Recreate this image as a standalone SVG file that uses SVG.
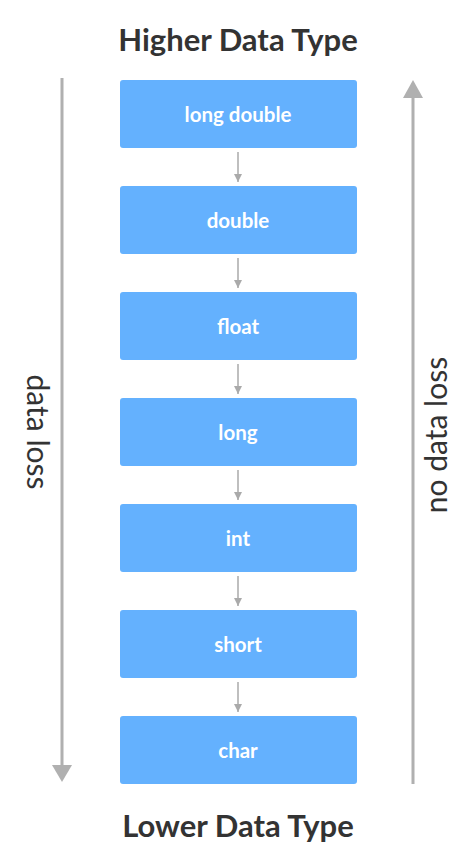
<svg xmlns="http://www.w3.org/2000/svg" width="474" height="865" viewBox="0 0 474 865">
<style>
.box{fill:#64b1fe}
.lbl{font-family:Lato,"Liberation Sans",sans-serif;font-weight:bold;font-size:20.5px;fill:#ffffff;text-anchor:middle}
.title{font-family:Lato,"Liberation Sans",sans-serif;font-weight:bold;font-size:31px;fill:#333333;text-anchor:middle}
.side{font-family:Lato,"Liberation Sans",sans-serif;font-size:30px;fill:#333333;text-anchor:middle}
.sm{stroke:#aaaaaa;stroke-width:1.5;fill:none}
.big{stroke:#b0b0b0;stroke-width:3;fill:none}
</style>
<defs>
<marker id="ah" viewBox="0 0 10 10" refX="10" refY="5" markerWidth="8" markerHeight="10" markerUnits="userSpaceOnUse" orient="auto"><path d="M0,0 L10,5 L0,10 z" fill="#aaaaaa"/></marker>
</defs>
<rect width="474" height="865" fill="#ffffff"/>
<text class="title" x="238" y="51">Higher Data Type</text>
<text class="title" x="238" y="837">Lower Data Type</text>
<g id="connectors">
<line class="sm" x1="238" y1="152" x2="238" y2="182" marker-end="url(#ah)"/>
<line class="sm" x1="238" y1="258" x2="238" y2="288" marker-end="url(#ah)"/>
<line class="sm" x1="238" y1="364" x2="238" y2="394" marker-end="url(#ah)"/>
<line class="sm" x1="238" y1="470" x2="238" y2="500" marker-end="url(#ah)"/>
<line class="sm" x1="238" y1="576" x2="238" y2="606" marker-end="url(#ah)"/>
<line class="sm" x1="238" y1="682" x2="238" y2="712" marker-end="url(#ah)"/>
<line class="big" x1="62" y1="78" x2="62" y2="768"/>
<path d="M52,765 L72,765 L62,782 z" fill="#b0b0b0"/>
<line class="big" x1="413" y1="95" x2="413" y2="784"/>
<path d="M403,98 L423,98 L413,80 z" fill="#b0b0b0"/>
</g>
<g id="n1"><rect class="box" x="120" y="80" width="237" height="68" rx="3"/><text class="lbl" x="238" y="122">long double</text></g>
<g id="n2"><rect class="box" x="120" y="186" width="237" height="68" rx="3"/><text class="lbl" x="238" y="228">double</text></g>
<g id="n3"><rect class="box" x="120" y="292" width="237" height="68" rx="3"/><text class="lbl" x="238" y="334">float</text></g>
<g id="n4"><rect class="box" x="120" y="398" width="237" height="68" rx="3"/><text class="lbl" x="238" y="440">long</text></g>
<g id="n5"><rect class="box" x="120" y="504" width="237" height="68" rx="3"/><text class="lbl" x="238" y="546">int</text></g>
<g id="n6"><rect class="box" x="120" y="610" width="237" height="68" rx="3"/><text class="lbl" x="238" y="652">short</text></g>
<g id="n7"><rect class="box" x="120" y="716" width="237" height="68" rx="3"/><text class="lbl" x="238" y="758">char</text></g>
<text class="side" transform="translate(27,432) rotate(90)">data loss</text>
<text class="side" transform="translate(447,435) rotate(-90)">no data loss</text>
</svg>
